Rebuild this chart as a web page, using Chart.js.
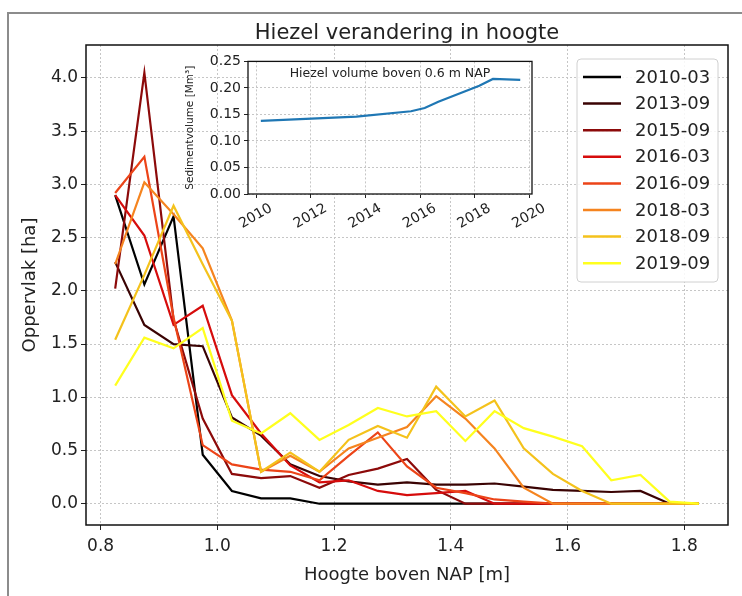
<!DOCTYPE html>
<html lang="nl">
<head>
<meta charset="UTF-8">
<title>Hiezel verandering in hoogte</title>
<style>
  body { margin: 0; background: #fff; }
  #wrap { position: relative; width: 742px; height: 596px; overflow: hidden; }
  #frame { position: absolute; left: 7px; top: 12px; width: 800px; height: 700px;
           border-left: 2px solid #8c8c8c; border-top: 2px solid #8c8c8c; }
  #main { position: absolute; left: 0; top: 0; }
  #inset { position: absolute; left: 180px; top: 50px; }
</style>
</head>
<body>
<div id="wrap">
  <div id="frame"></div>
  <canvas id="main" width="742" height="596"></canvas>
  <canvas id="inset" width="370" height="200"></canvas>
</div>

<script src="https://cdn.jsdelivr.net/npm/chart.js"></script>
<script>
// hoogteklassen (m boven NAP), midden van elke klasse
const heights = [0.825, 0.875, 0.925, 0.975, 1.025, 1.075, 1.125, 1.175, 1.225, 1.275, 1.325,
                 1.375, 1.425, 1.475, 1.525, 1.575, 1.625, 1.675, 1.725, 1.775, 1.825];

// oppervlak per hoogteklasse [ha], per opname
const surveys = ['2010-03', '2013-09', '2015-09', '2016-03', '2016-09', '2018-03', '2018-09', '2019-09'];
const area2010_03 = [2.90, 2.06, 2.70, 0.46, 0.12, 0.05, 0.05, 0.00, 0.00, 0.00, 0.00, 0.00, 0.00, 0.00, 0.00, 0.00, 0.00, 0.00, 0.00, 0.00, 0.00];
const area2013_09 = [2.27, 1.68, 1.50, 1.48, 0.81, 0.64, 0.37, 0.26, 0.21, 0.18, 0.20, 0.18, 0.18, 0.19, 0.16, 0.13, 0.12, 0.11, 0.12, 0.00, 0.00];
const area2015_09 = [2.02, 4.05, 1.73, 0.80, 0.28, 0.24, 0.26, 0.15, 0.27, 0.33, 0.42, 0.13, 0.00, 0.00, 0.00, 0.00, 0.00, 0.00, 0.00, 0.00, 0.00];
const area2016_03 = [2.90, 2.52, 1.68, 1.86, 1.02, 0.66, 0.36, 0.20, 0.22, 0.12, 0.08, 0.10, 0.12, 0.00, 0.00, 0.00, 0.00, 0.00, 0.00, 0.00, 0.00];
const area2016_09 = [2.92, 3.26, 1.75, 0.55, 0.37, 0.32, 0.30, 0.22, 0.45, 0.67, 0.35, 0.15, 0.10, 0.04, 0.02, 0.00, 0.00, 0.00, 0.00, 0.00, 0.00];
const area2018_03 = [2.25, 3.02, 2.72, 2.40, 1.72, 0.30, 0.45, 0.30, 0.52, 0.62, 0.72, 1.01, 0.80, 0.52, 0.15, 0.00, 0.00, 0.00, 0.00, 0.00, 0.00];
const area2018_09 = [1.54, 2.15, 2.80, 2.25, 1.72, 0.30, 0.48, 0.30, 0.60, 0.73, 0.62, 1.10, 0.82, 0.97, 0.52, 0.28, 0.12, 0.00, 0.00, 0.00, 0.00];
const area2019_09 = [1.11, 1.56, 1.46, 1.65, 0.78, 0.66, 0.85, 0.60, 0.74, 0.90, 0.82, 0.87, 0.59, 0.87, 0.71, 0.63, 0.54, 0.22, 0.27, 0.02, 0.00];
const areas = [area2010_03, area2013_09, area2015_09, area2016_03, area2016_09, area2018_03, area2018_09, area2019_09];
const colors = ['#000000', '#3a0303', '#8c0a0a', '#d60c0c', '#ec4418', '#f5841f', '#f4c21c', '#ffff1e'];

const xTicks = [0.8, 1.0, 1.2, 1.4, 1.6, 1.8];
const xTickLabels = ['0.8', '1.0', '1.2', '1.4', '1.6', '1.8'];
const yTicks = [0, 0.5, 1, 1.5, 2, 2.5, 3, 3.5, 4];
const yTickLabels = ['0.0', '0.5', '1.0', '1.5', '2.0', '2.5', '3.0', '3.5', '4.0'];

// inzet: hiezelvolume boven 0.6 m NAP
const volumeYears = [2010.17, 2013.67, 2015.67, 2016.17, 2016.67, 2018.17, 2018.67, 2019.67];
const volume = [0.138, 0.146, 0.156, 0.162, 0.174, 0.204, 0.217, 0.215];
const insetXTicks = [2010, 2012, 2014, 2016, 2018, 2020];
const insetXTickLabels = ['2010', '2012', '2014', '2016', '2018', '2020'];
const insetYTicks = [0, 0.05, 0.10, 0.15, 0.20, 0.25];
const insetYTickLabels = ['0.00', '0.05', '0.10', '0.15', '0.20', '0.25'];

const FONT = 'DejaVu Sans';
const TEXT = '#222';

// gesloten kader om het assenvlak
const boxPlugin = {
  id: 'box',
  afterDatasetsDraw(chart, args, opts) {
    const {ctx, chartArea: a} = chart;
    ctx.save();
    ctx.strokeStyle = '#111';
    ctx.lineWidth = opts.width || 1.5;
    ctx.strokeRect(a.left, a.top, a.width, a.height);
    ctx.restore();
  }
};

const mainTitlePlugin = {
  id: 'mainTitle',
  afterDraw(chart) {
    const {ctx, chartArea: a} = chart;
    ctx.save();
    ctx.font = '21px "' + FONT + '"';
    ctx.fillStyle = TEXT;
    ctx.textAlign = 'center';
    ctx.textBaseline = 'middle';
    ctx.fillText('Hiezel verandering in hoogte', (a.left + a.right) / 2, 34);
    ctx.restore();
  }
};

// legenda binnen het assenvlak, rechtsboven
const legendPlugin = {
  id: 'boxLegend',
  afterDraw(chart) {
    const ctx = chart.ctx;
    const x = 577, y = 59, w = 141, h = 223, step = 26.6;
    ctx.save();
    ctx.beginPath();
    ctx.roundRect(x, y, w, h, 4);
    ctx.fillStyle = 'rgba(255,255,255,0.85)';
    ctx.fill();
    ctx.strokeStyle = '#d0d0d0';
    ctx.lineWidth = 1;
    ctx.stroke();
    ctx.font = '18px "' + FONT + '"';
    ctx.textBaseline = 'middle';
    chart.data.datasets.forEach((ds, i) => {
      const ry = y + 18 + i * step;
      ctx.strokeStyle = ds.borderColor;
      ctx.lineWidth = 2.5;
      ctx.beginPath();
      ctx.moveTo(583, ry);
      ctx.lineTo(621, ry);
      ctx.stroke();
      ctx.fillStyle = TEXT;
      ctx.fillText(ds.label, 635, ry + 1);
    });
    ctx.restore();
  }
};

const mainChart = new Chart(document.getElementById('main'), {
  type: 'line',
  data: {
    datasets: surveys.map((label, i) => ({
      label: label,
      data: heights.map((h, k) => ({x: h, y: areas[i][k]})),
      borderColor: colors[i],
      backgroundColor: colors[i],
      borderWidth: 2.2,
      pointRadius: 0,
      tension: 0,
      order: surveys.length - i   // latere opnames bovenop
    }))
  },
  options: {
    responsive: false,
    animation: false,
    layout: { padding: { top: 45, right: 14, bottom: 0, left: 0 } },
    plugins: {
      legend: { display: false },
      title: { display: false },
      tooltip: { enabled: false },
      box: { width: 1.5 }
    },
    scales: {
      x: {
        type: 'linear',
        min: 0.775,
        max: 1.875,
        afterBuildTicks: s => { s.ticks = xTicks.map(v => ({value: v})); },
        afterFit: s => { s.height = 71; },
        ticks: {
          callback: (v, i) => xTickLabels[i],
          font: { family: FONT, size: 17 },
          color: TEXT,
          padding: 6,
          maxRotation: 0
        },
        grid: { color: '#c6c6c6', lineWidth: 1, tickColor: '#222', tickLength: 5 },
        border: { display: false, dash: [2, 2] },
        title: {
          display: true,
          text: 'Hoogte boven NAP [m]',
          font: { family: FONT, size: 18 },
          color: TEXT,
          padding: { top: 0, bottom: 10 }
        }
      },
      y: {
        min: -0.2,
        max: 4.31,
        afterBuildTicks: s => { s.ticks = yTicks.map(v => ({value: v})); },
        afterFit: s => { s.width = 86; },
        ticks: {
          callback: (v, i) => yTickLabels[i],
          font: { family: FONT, size: 17 },
          color: TEXT,
          padding: 3
        },
        grid: { color: '#c6c6c6', lineWidth: 1, tickColor: '#222', tickLength: 5 },
        border: { display: false, dash: [2, 2] },
        title: {
          display: true,
          text: 'Oppervlak [ha]',
          font: { family: FONT, size: 18 },
          color: TEXT,
          padding: { top: 20, bottom: 0 }
        }
      }
    }
  },
  plugins: [boxPlugin, mainTitlePlugin, legendPlugin]
});

// inzetgrafiek met wit vlak
const insetBgPlugin = {
  id: 'insetBg',
  beforeDraw(chart) {
    const {ctx, chartArea: a} = chart;
    ctx.save();
    ctx.fillStyle = '#fff';
    ctx.fillRect(a.left, a.top, a.width, a.height);
    ctx.restore();
  },
  afterDraw(chart) {
    const {ctx, chartArea: a} = chart;
    ctx.save();
    ctx.font = '12.5px "' + FONT + '"';
    ctx.fillStyle = TEXT;
    ctx.textAlign = 'center';
    ctx.textBaseline = 'middle';
    ctx.fillText('Hiezel volume boven 0.6 m NAP', (a.left + a.right) / 2, a.top + 12);
    ctx.restore();
  }
};

const insetChart = new Chart(document.getElementById('inset'), {
  type: 'line',
  data: {
    datasets: [{
      label: 'Sedimentvolume',
      data: volumeYears.map((t, k) => ({x: t, y: volume[k]})),
      borderColor: '#1f77b4',
      borderWidth: 2.2,
      pointRadius: 0,
      tension: 0
    }]
  },
  options: {
    responsive: false,
    animation: false,
    layout: { padding: { top: 11, right: 18, bottom: 0, left: 0 } },
    plugins: {
      legend: { display: false },
      tooltip: { enabled: false },
      box: { width: 1.3 }
    },
    scales: {
      x: {
        type: 'linear',
        min: 2009.7,
        max: 2020.1,
        afterBuildTicks: s => { s.ticks = insetXTicks.map(v => ({value: v})); },
        afterFit: s => { s.height = 56; },
        ticks: {
          callback: (v, i) => insetXTickLabels[i],
          font: { family: FONT, size: 14 },
          color: TEXT,
          minRotation: 30,
          maxRotation: 30,
          labelOffset: 15,
          padding: 2
        },
        grid: { color: '#c6c6c6', lineWidth: 1, tickColor: '#222', tickLength: 4 },
        border: { display: false, dash: [2, 2] }
      },
      y: {
        min: 0,
        max: 0.25,
        afterBuildTicks: s => { s.ticks = insetYTicks.map(v => ({value: v})); },
        afterFit: s => { s.width = 68; },
        ticks: {
          callback: (v, i) => insetYTickLabels[i],
          font: { family: FONT, size: 14 },
          color: TEXT,
          padding: 3
        },
        grid: { color: '#c6c6c6', lineWidth: 1, tickColor: '#222', tickLength: 4 },
        border: { display: false, dash: [2, 2] },
        title: {
          display: true,
          text: 'Sedimentvolume [Mm³]',
          font: { family: FONT, size: 10.5 },
          color: TEXT,
          padding: { top: 4, bottom: 0 }
        }
      }
    }
  },
  plugins: [insetBgPlugin, boxPlugin]
});
</script>
</body>
</html>
